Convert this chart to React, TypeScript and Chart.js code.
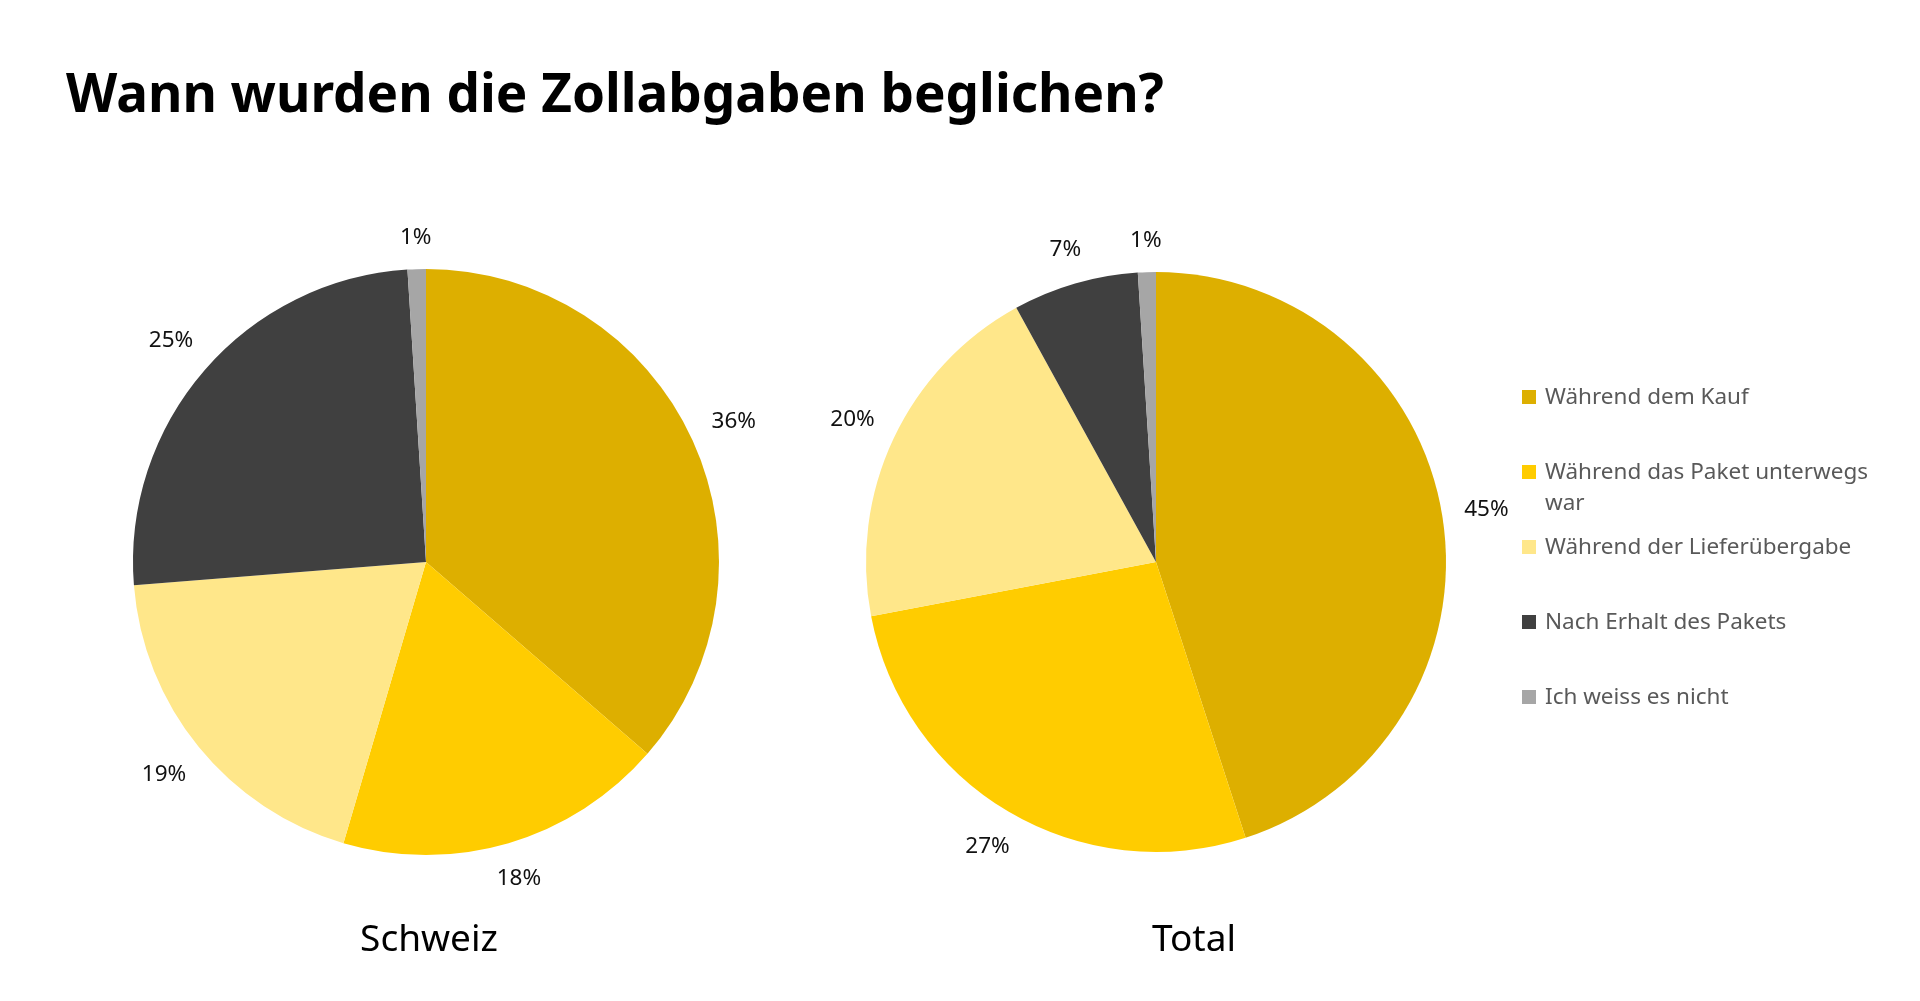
import React, { useEffect, useRef } from "react";
import { Chart, registerables } from "chart.js";

Chart.register(...registerables);

const categories = [
  "Während dem Kauf",
  "Während das Paket unterwegs war",
  "Während der Lieferübergabe",
  "Nach Erhalt des Pakets",
  "Ich weiss es nicht",
];
const colors = ["#DDAF00", "#FFCC00", "#FFE78A", "#404040", "#A6A6A6"];
const schweizValues = [36, 18, 19, 25, 1];
const totalValues = [45, 27, 20, 7, 1];
const chartTitles = ["Schweiz", "Total"];
const mainTitle = "Wann wurden die Zollabgaben beglichen?";

const FONT = "'Noto Sans', 'Open Sans', sans-serif";
const CW = 780;
const CH = 700;

const outsideLabels = {
  id: "outsideLabels",
  afterDatasetsDraw(chart: any) {
    const ctx = chart.ctx;
    const meta = chart.getDatasetMeta(0);
    const data = chart.data.datasets[0].data as number[];
    ctx.save();
    ctx.font = `22.5px ${FONT}`;
    ctx.fillStyle = "#111111";
    ctx.textAlign = "center";
    ctx.textBaseline = "middle";
    meta.data.forEach((arc: any, i: number) => {
      const p = arc.getProps(["x", "y", "startAngle", "endAngle", "outerRadius"], true);
      const mid = (p.startAngle + p.endAngle) / 2;
      const text = `${data[i]}%`;
      const hw = ctx.measureText(text).width / 2;
      const hh = 10;
      const dx = Math.cos(mid);
      const dy = Math.sin(mid);
      const r = p.outerRadius + 21 + Math.abs(dx) * hw + Math.abs(dy) * hh;
      ctx.fillText(text, p.x + dx * r, p.y + dy * r);
    });
    ctx.restore();
  },
};

function PieChart({ values, radius }: { values: number[]; radius: number }) {
  const ref = useRef<HTMLCanvasElement | null>(null);
  useEffect(() => {
    if (!ref.current) return;
    const padX = CW / 2 - radius;
    const padY = CH / 2 - radius;
    const chart = new Chart(ref.current, {
      type: "pie",
      data: {
        labels: categories,
        datasets: [
          {
            data: values,
            backgroundColor: colors,
            borderWidth: 0,
          },
        ],
      },
      options: {
        animation: false,
        responsive: false,
        maintainAspectRatio: false,
        layout: { padding: { left: padX, right: padX, top: padY, bottom: padY } },
        plugins: {
          legend: { display: false },
          tooltip: { enabled: false },
          title: { display: false },
        },
      },
      plugins: [outsideLabels],
    });
    return () => chart.destroy();
  }, [values, radius]);
  return <canvas ref={ref} width={CW} height={CH} style={{ width: CW, height: CH }} />;
}

export default function App() {
  return (
    <div
      style={{
        position: "absolute",
        left: 0,
        top: 0,
        width: 1920,
        height: 1001,
        background: "#ffffff",
        overflow: "hidden",
        fontFamily: FONT,
      }}
    >
      <div
        style={{
          position: "absolute",
          left: 66,
          top: 57,
          fontSize: 53,
          fontWeight: 700,
          color: "#000",
          whiteSpace: "nowrap",
          lineHeight: "70px",
        }}
      >
        {mainTitle}
      </div>
      <div style={{ position: "absolute", left: 426 - CW / 2, top: 562 - CH / 2 }}>
        <PieChart values={schweizValues} radius={293} />
      </div>
      <div style={{ position: "absolute", left: 1156 - CW / 2, top: 562 - CH / 2 }}>
        <PieChart values={totalValues} radius={290} />
      </div>
      <div
        style={{
          position: "absolute",
          left: 329,
          width: 200,
          top: 912,
          textAlign: "center",
          fontSize: 37,
          lineHeight: "50px",
          color: "#000",
        }}
      >
        {chartTitles[0]}
      </div>
      <div
        style={{
          position: "absolute",
          left: 1094,
          width: 200,
          top: 912,
          textAlign: "center",
          fontSize: 37,
          lineHeight: "50px",
          color: "#000",
        }}
      >
        {chartTitles[1]}
      </div>
      <div style={{ position: "absolute", left: 1522, top: 380, width: 370 }}>
        {categories.map((c, i) => (
          <div
            key={c}
            style={{
              display: "flex",
              alignItems: "flex-start",
              height: 75,
            }}
          >
            <div
              style={{
                width: 14,
                height: 14,
                background: colors[i],
                marginTop: 10,
                marginRight: 9,
                flex: "0 0 auto",
              }}
            />
            <div
              style={{
                fontSize: 22.5,
                lineHeight: "31px",
                color: "#595959",
                width: 340,
              }}
            >
              {c}
            </div>
          </div>
        ))}
      </div>
    </div>
  );
}
